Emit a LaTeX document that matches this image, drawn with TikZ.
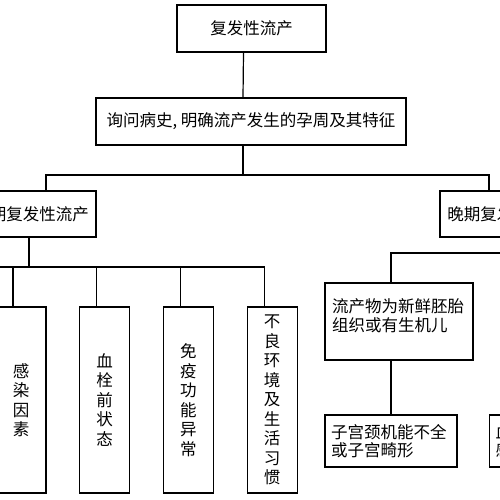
\documentclass[tikz,border=0pt]{standalone}
\usepackage{fontspec}
\newfontfamily\cjk{Noto Sans CJK SC}
\usetikzlibrary{positioning}

\begin{document}
\begin{tikzpicture}[
    x=1pt, y=-1pt,
    node distance = 32.5pt,
    box/.style = {rectangle, draw, line width=1.2pt, inner sep=0pt, font=\cjk\fontsize{16.5}{18.5}\selectfont},
    head/.style = {box, minimum width=149pt, minimum height=47pt},
    branch/.style = {box, minimum width=130pt, minimum height=46pt},
    tall/.style = {box, minimum width=50pt, minimum height=186pt, align=center, font=\cjk\fontsize{16.5}{19.5}\selectfont},
    finding/.style = {box, align=left, inner xsep=7pt, text width=134pt, text depth=31pt, minimum height=77pt},
    cause/.style = {box, align=left, inner xsep=6pt, text width=120pt, minimum height=52pt},
    link/.style = {line width=1.2pt}
]
% Frame of the cropped view
\useasboundingbox (0,0) rectangle (500,500);
\clip (0,0) rectangle (500,500);
% Top of the tree
\node[head] (top) at (251.5,28.5) {复发性流产};
\node[head, minimum width=310pt] (ask) at (251,121.5) {询问病史, 明确流产发生的孕周及其特征};
% Two branches
\node[branch] (early) at (31,214) {早期复发性流产};
\node[branch] (late) at (505,214) {晚期复发性流产};
% Early causes
\node[tall] (v1) at (21,400) {感\\染\\因\\素};
\node[tall, right=of v1] (v2) {血\\栓\\前\\状\\态};
\node[tall, right=of v2] (v3) {免\\疫\\功\\能\\异\\常};
\node[tall, right=of v3] (v4) {不\\良\\环\\境\\及\\生\\活\\习\\惯};
% Late findings
\node[finding] (f1) at (399,321.5) {流产物为新鲜胚胎\\组织或有生机儿};
\node[cause] (f2) at (391,441) {子宫颈机能不全\\或子宫畸形};
\node[cause, anchor=west] (f3) at (489,441) {血栓前状态或\\感染因素};

% Connectors
\coordinate (bus1) at (243,175);
\coordinate (bus2) at (29,267);
\coordinate (bus3) at (391,253);
\coordinate (west) at (-70,267);
\draw[link] ([xshift=-8pt]top.south) -- ([xshift=-8pt]ask.north);
\draw[link] ([xshift=-8pt]ask.south) -- (bus1);
\draw[link] ([xshift=15pt]early.north) |- (bus1) -| ([xshift=-16pt]late.north);
\draw[link] ([xshift=-2pt]early.south) -- (bus2);
\draw[link] (west) -| ([xshift=-8pt]v4.north);
\foreach \n in {v1,v2,v3}
    \draw[link] ([xshift=-8pt]\n.north) -- ([xshift=-8pt]\n.north |- bus2);
\draw[link] ([xshift=40pt]late.south) |- (bus3) -- (f1.north -| bus3);
\draw[link] ([xshift=-8pt]f1.south) -- (f2.north);
\end{tikzpicture}
\end{document}
